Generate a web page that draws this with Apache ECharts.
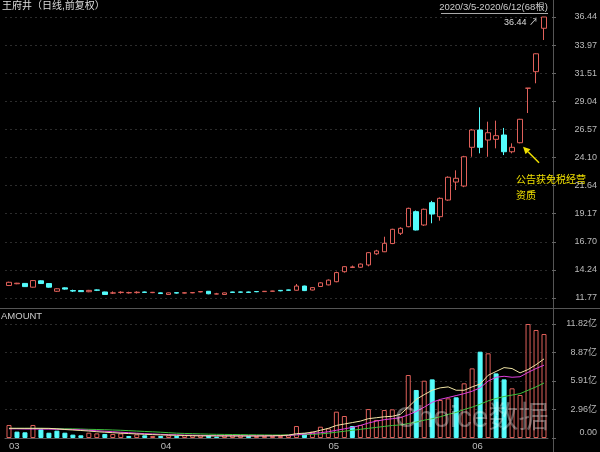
<!DOCTYPE html>
<html><head><meta charset="utf-8">
<script src="https://cdn.jsdelivr.net/npm/echarts@6/dist/echarts.min.js"></script>
<style>html,body{margin:0;padding:0;background:#000;}#c{width:600px;height:452px;}</style>
</head><body><div id="c"></div>
<script>
const dates = ['03-05','03-06','03-09','03-10','03-11','03-12','03-13','03-16','03-17','03-18','03-19','03-20','03-23','03-24','03-25','03-26','03-27','03-30','03-31',
'04-01','04-02','04-03','04-07','04-08','04-09','04-10','04-13','04-14','04-15','04-16','04-17','04-20','04-21','04-22','04-23','04-24','04-27','04-28','04-29','04-30',
'05-06','05-07','05-08','05-11','05-12','05-13','05-14','05-15','05-18','05-19','05-20','05-21','05-22','05-25','05-26','05-27','05-28','05-29',
'06-01','06-02','06-03','06-04','06-05','06-08','06-09','06-10','06-11','06-12'];
const opens = [12.87,13.02,13.05,12.72,13.28,13.04,12.36,12.66,12.42,12.42,
12.32,12.48,12.30,12.20,12.25,12.22,12.24,12.30,12.24,12.22,
12.08,12.24,12.20,12.22,12.30,12.36,12.12,12.08,12.30,12.30,
12.30,12.34,12.33,12.36,12.44,12.48,12.45,12.82,12.47,12.78,
12.92,13.20,14.08,14.45,14.47,14.67,15.65,15.83,16.55,17.45,
18.03,19.35,18.18,20.14,18.91,20.37,21.95,21.60,25.00,26.52,
25.64,25.70,26.08,24.61,25.40,30.19,31.64,35.45];
const closes = [13.15,13.07,12.77,13.30,13.04,12.72,12.58,12.55,12.38,12.33,
12.44,12.45,12.08,12.22,12.28,12.25,12.28,12.26,12.27,12.16,
12.22,12.20,12.23,12.25,12.34,12.14,12.13,12.22,12.26,12.28,
12.26,12.32,12.36,12.38,12.40,12.45,12.82,12.42,12.68,13.10,
13.34,14.00,14.52,14.50,14.75,15.75,15.90,16.57,17.80,17.89,
19.64,17.74,19.56,19.14,20.52,22.37,22.28,24.17,26.52,25.00,
26.28,26.02,24.61,25.00,27.46,30.19,33.21,36.44];
const lows = [12.82,12.98,12.74,12.68,13.00,12.68,12.30,12.50,12.30,12.30,
12.28,12.38,12.05,12.12,12.15,12.16,12.16,12.22,12.20,12.12,
12.05,12.16,12.17,12.19,12.27,12.10,12.10,12.05,12.22,12.24,
12.22,12.28,12.30,12.33,12.36,12.42,12.42,12.38,12.44,12.74,
12.88,13.15,14.00,14.40,14.42,14.55,15.55,15.80,16.50,17.30,
17.98,17.70,18.10,18.33,18.56,20.30,21.25,21.50,24.17,24.47,
24.17,24.91,24.32,24.47,25.35,28.01,30.62,34.42];
const highs = [13.20,13.10,13.08,13.35,13.32,13.06,12.62,12.70,12.50,12.45,
12.48,12.52,12.32,12.35,12.36,12.32,12.36,12.33,12.30,12.25,
12.24,12.26,12.26,12.28,12.37,12.38,12.22,12.24,12.32,12.33,
12.33,12.36,12.38,12.40,12.46,12.50,13.00,12.85,12.72,13.15,
13.40,14.08,14.56,14.62,14.80,15.80,16.00,17.15,17.85,17.98,
19.70,19.45,19.62,20.30,20.60,22.45,22.98,24.25,26.60,28.51,
27.25,27.34,26.70,25.35,27.50,30.19,33.25,36.44];
// 成交额（亿）
const amounts = [1.35,0.66,0.59,1.35,0.90,0.55,0.76,0.55,0.35,0.28,
0.55,0.48,0.42,0.42,0.48,0.21,0.38,0.28,0.21,0.21,
0.28,0.21,0.28,0.28,0.28,0.31,0.14,0.28,0.28,0.28,
0.21,0.21,0.21,0.21,0.21,0.28,1.24,0.49,0.66,1.17,
1.00,2.73,2.28,1.24,1.35,3.00,1.87,2.90,2.97,2.21,
6.53,4.98,5.94,6.08,3.94,4.11,4.22,5.67,7.22,8.95,
8.78,6.70,6.08,5.15,4.46,11.82,11.20,10.78];
const ma5 = [1.0,1.0,1.0,1.0,1.0,1.0,0.95,0.88,0.83,0.78,
0.72,0.65,0.6,0.55,0.5,0.46,0.42,0.38,0.35,0.32,
0.3,0.28,0.26,0.24,0.22,0.22,0.21,0.21,0.21,0.21,
0.21,0.21,0.22,0.23,0.25,0.3,0.45,0.5,0.6,0.8,
1.0,1.3,1.45,1.6,1.75,2.0,2.1,2.2,2.25,2.45,
3.2,4.0,4.5,4.95,5.2,5.3,4.95,4.95,5.3,5.6,
6.5,6.9,7.3,7.2,6.75,7.1,7.6,8.2];
const ma10 = [0.95,0.95,0.93,0.93,0.92,0.92,0.9,0.9,0.88,0.85,
0.8,0.75,0.7,0.65,0.6,0.55,0.5,0.45,0.42,0.38,
0.35,0.33,0.3,0.29,0.27,0.25,0.25,0.24,0.24,0.23,
0.23,0.23,0.23,0.23,0.24,0.26,0.33,0.4,0.48,0.55,
0.65,0.8,0.95,1.1,1.3,1.55,1.75,1.9,2.0,2.1,
2.4,2.75,3.2,3.7,4.0,4.2,4.4,4.6,4.85,5.2,
5.9,6.3,6.4,6.3,6.35,6.8,7.2,7.55];
const ma20 = [1.0,1.0,1.0,1.0,1.0,0.98,0.97,0.96,0.95,0.93,
0.9,0.88,0.86,0.83,0.8,0.76,0.72,0.68,0.64,0.6,
0.55,0.5,0.47,0.45,0.42,0.4,0.38,0.37,0.36,0.35,
0.34,0.33,0.32,0.31,0.31,0.31,0.33,0.35,0.38,0.42,
0.5,0.6,0.7,0.8,0.9,1.0,1.1,1.2,1.3,1.35,
1.5,1.65,1.85,2.0,2.2,2.45,2.65,2.95,3.2,3.5,
3.85,4.1,4.3,4.45,4.6,4.95,5.3,5.7];
const priceTicks = ['11.77','14.24','16.70','19.17','21.64','24.10','26.57','29.04','31.51','33.97','36.44'];
const amountTicks = ['0.00','2.96亿','5.91亿','8.87亿','11.82亿'];
const PMIN = 11.77, PMAX = 36.44, PSTEP = 2.467;
const AMAX = 11.82, ASTEP = 2.955;

const RED = '#e0605a', CYAN = '#54fcfc';
const FONT = '"Liberation Sans","Noto Sans CJK SC",sans-serif';

const chart = echarts.init(document.getElementById('c'), null, {renderer:'canvas'});
const kData = opens.map((o,i)=>[o, closes[i], lows[i], highs[i]]);
const volData = amounts.map((v,i)=>{
  const up = i === 0 ? closes[i] >= opens[i] : closes[i] >= closes[i-1];
  return {value:v, itemStyle: up ? {color:'#000', borderColor:RED, borderWidth:1} : {color:CYAN, borderColor:CYAN, borderWidth:1}};
});
const axisLabelCommon = {fontSize:9, color:'#bbb', fontFamily:FONT, align:'right', margin:45};
const option = {
  backgroundColor:'#000',
  animation:false,
  textStyle:{fontFamily:FONT},
  grid:[{left:5, right:51, top:17, height:281},{left:5, right:51, top:324, height:114}],
  xAxis:[
    {type:'category', gridIndex:0, data:dates, axisLine:{show:false}, axisTick:{show:false}, axisLabel:{show:false}, splitLine:{show:false}},
    {type:'category', gridIndex:1, data:dates, axisLine:{show:true, lineStyle:{color:'#555'}}, axisTick:{show:false},
     axisLabel:{interval:(i)=> i===0 || dates[i].slice(0,2)!==dates[i-1].slice(0,2), formatter:(v)=>v.slice(0,2),
       align:'left', margin:4, fontSize:9.5, color:'#bbb', fontFamily:FONT}, splitLine:{show:false}}
  ],
  yAxis:[
    {type:'value', gridIndex:0, position:'right', offset:4, min:PMIN, max:PMAX, interval:PSTEP,
     axisLine:{show:false}, axisTick:{show:true, length:4, lineStyle:{color:'#666'}},
     axisLabel:Object.assign({}, axisLabelCommon, {formatter:(v)=>priceTicks[Math.round((v-PMIN)/PSTEP)]}),
     splitLine:{show:true, lineStyle:{color:'#2c2c2c', type:[2,3]}}},
    {type:'value', gridIndex:1, position:'right', offset:4, min:0, max:AMAX, interval:ASTEP,
     axisLine:{show:false}, axisTick:{show:true, length:4, lineStyle:{color:'#666'}},
     axisLabel:Object.assign({}, axisLabelCommon, {formatter:(v)=>{const k=Math.round(v/ASTEP); return k===0?'{z|'+amountTicks[0]+'}':amountTicks[k];},
       rich:{z:{padding:[0,0,10,0], fontSize:9, color:'#bbb', fontFamily:FONT}}}),
     splitLine:{show:true, lineStyle:{color:'#2c2c2c', type:[2,3]}}}
  ],
  series:[
    {type:'candlestick', xAxisIndex:0, yAxisIndex:0, data:kData, barWidth:5,
     itemStyle:{color:'#000', color0:CYAN, borderColor:RED, borderColor0:CYAN, borderWidth:1}},
    {type:'bar', xAxisIndex:1, yAxisIndex:1, data:volData, barWidth:5},
    {type:'line', xAxisIndex:1, yAxisIndex:1, data:ma20, showSymbol:false, silent:true, lineStyle:{width:1, color:'#3cc03c'}},
    {type:'line', xAxisIndex:1, yAxisIndex:1, data:ma10, showSymbol:false, silent:true, lineStyle:{width:1, color:'#e040e0'}},
    {type:'line', xAxisIndex:1, yAxisIndex:1, data:ma5, showSymbol:false, silent:true, lineStyle:{width:1, color:'#f2e6a6'}}
  ]
};
chart.setOption(option);

// annotations
const last = closes.length - 1;
const pTop = chart.convertToPixel({gridIndex:0}, [last, highs[last]]);
const ann = chart.convertToPixel({gridIndex:0}, [64, opens[64]]);
const head = [ann[0]+3, ann[1]+4], tail = [ann[0]+19, ann[1]+20];
const dx = head[0]-tail[0], dy = head[1]-tail[1], len = Math.hypot(dx,dy);
const ux = dx/len, uy = dy/len, hl = 7, hw = 3.5;
const bx = head[0]-ux*hl, by = head[1]-uy*hl;
const axisX = 553.5;
chart.setOption({graphic:[
  {type:'text', left:2, top:1, style:{text:'王府井（日线,前复权）', fontSize:10, fill:'#ddd', fontFamily:FONT}},
  {type:'text', x:548, y:7, style:{text:'2020/3/5-2020/6/12(68根)', fontSize:9.5, fill:'#ccc', fontFamily:FONT, align:'right', verticalAlign:'middle'}},
  {type:'line', shape:{x1:441, y1:13.5, x2:548, y2:13.5}, style:{stroke:'#aaa', lineWidth:1}},
  {type:'line', shape:{x1:axisX, y1:0, x2:axisX, y2:452}, style:{stroke:'#555', lineWidth:1}},
  {type:'line', shape:{x1:0, y1:308.5, x2:600, y2:308.5}, style:{stroke:'#555', lineWidth:1}},
  {type:'text', x:1, y:316, style:{text:'AMOUNT', fontSize:9.5, fill:'#ccc', fontFamily:FONT, verticalAlign:'middle'}},
  {type:'text', x:pTop[0]-6, y:pTop[1]+6, style:{text:highs[last].toFixed(2)+' ↗', fontSize:9, fill:'#ddd', fontFamily:FONT, align:'right', verticalAlign:'middle'}},
  {type:'line', shape:{x1:tail[0], y1:tail[1], x2:bx, y2:by}, style:{stroke:'#f0e000', lineWidth:1.5}},
  {type:'polygon', shape:{points:[head,[bx-uy*hw, by+ux*hw],[bx+uy*hw, by-ux*hw]]}, style:{fill:'#f0e000'}},
  {type:'text', x:tail[0]-23, y:tail[1]+10, style:{text:'公告获免税经营\n资质', fontSize:10, lineHeight:16, fill:'#f0e000', fontFamily:FONT}},
  {type:'text', left:395, top:404, z:100, style:{text:'Choice数据', fontSize:30, fill:'rgba(255,255,255,0.35)', fontFamily:FONT}}
]});
</script></body></html>
